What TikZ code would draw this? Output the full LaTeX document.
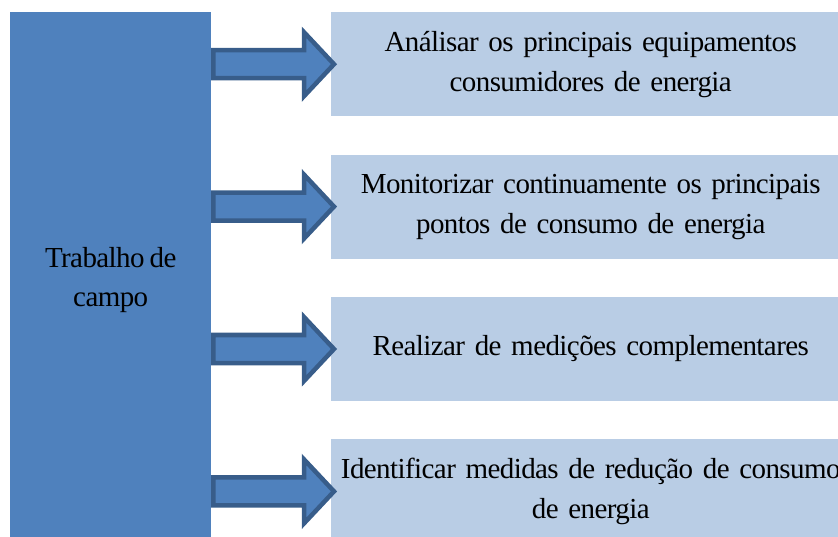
\documentclass[tikz,border=0pt]{standalone}
\usepackage{fontspec}
\setmainfont{Liberation Serif}[WordSpace=0.75,LetterSpace=-2]
\usetikzlibrary{calc,positioning}

\definecolor{campoblue}{HTML}{4F81BD}
\definecolor{tarefablue}{HTML}{B9CDE5}
\definecolor{setaborda}{HTML}{385D8A}

\tikzset{
  campobox/.style={fill=campoblue, inner sep=0pt, align=center,
                   font=\fontsize{29}{39}\selectfont},
  tarefa/.style={fill=tarefablue, inner sep=0pt, minimum width=519pt,
                 minimum height=104pt, text width=510pt, align=center,
                 font=\fontsize{29}{40}\selectfont},
  setabloco/.style={draw=setaborda, fill=campoblue, line width=4.5pt,
                    line join=miter}
}

% block arrow from the left box to one task box
\newcommand{\seta}[2]{%
  \draw[setabloco] ($(#1.east |- #2.west)+(2,-14)$) -- ($(#2.west)+(-27,-14)$)
    -- ($(#2.west)+(-27,-32)$) -- ($(#2.west)+(3,0)$)
    -- ($(#2.west)+(-27,32)$) -- ($(#2.west)+(-27,14)$)
    -- ($(#1.east |- #2.west)+(2,14)$) -- cycle;}

\begin{document}
\begin{tikzpicture}[x=1pt,y=-1pt]
  \useasboundingbox (0,0) rectangle (838,537);
  \clip (0,0) rectangle (838,537);

  \node[campobox, minimum width=201pt, minimum height=536pt,
        anchor=north west] (campo) at (10,12) {Trabalho de\\campo};

  \node[tarefa, anchor=north west] (t1) at (331,12)
    {Análisar os principais equipamentos\\consumidores de energia};
  \node[tarefa, below=38pt of t1] (t2)
    {Monitorizar continuamente os principais\\pontos de consumo de energia};
  \node[tarefa, below=38pt of t2] (t3)
    {Realizar de medições complementares};
  \node[tarefa, below=38pt of t3] (t4)
    {Identificar medidas de redução de consumo\\de energia};

  \foreach \t in {t1,t2,t3,t4}
    \seta{campo}{\t};
\end{tikzpicture}
\end{document}
